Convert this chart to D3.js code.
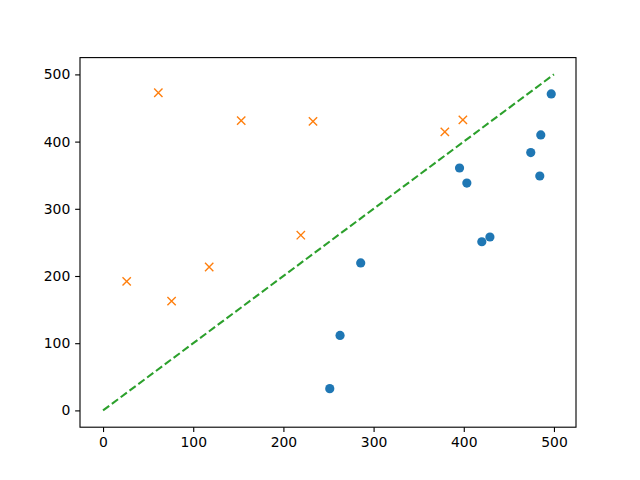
<!DOCTYPE html>
<html><head><meta charset="utf-8">
<script src="https://cdn.jsdelivr.net/npm/d3@7"></script>
<style>body{margin:0;background:#fff}</style>
</head><body>
<svg id="c" width="640" height="480"></svg>
<script>
const blueX = [251.4, 262.8, 285.7, 395.3, 403.4, 420, 429, 474.3, 485.4, 484.3, 497];
const blueY = [32.4, 111.5, 219.4, 360.7, 338.3, 251, 258, 383.6, 410, 348.8, 471];
const orangeX = [26.2, 61.3, 76, 117.7, 153.2, 219.3, 232.8, 379, 399];
const orangeY = [192, 472.7, 162.7, 213.4, 431.3, 260.7, 430, 414.4, 432.4];
const lineX = [0, 500];
const lineY = [0, 500];
const xTicks = [0, 100, 200, 300, 400, 500];
const yTicks = [0, 100, 200, 300, 400, 500];

const svg = d3.select("#c");
const L = 80, R = 576, T = 57.6, B = 427.2;
const x = d3.scaleLinear().domain([-25, 525]).range([L, R]);
const y = d3.scaleLinear().domain([-25, 525]).range([B, T]);

const g = svg.append("g");
g.selectAll("circle").data(blueX.map((v,i)=>[v, blueY[i]])).enter().append("circle")
  .attr("cx", d=>x(d[0])+0.5).attr("cy", d=>y(d[1])).attr("r", 4.6).attr("fill", "#1f77b4");
const s = 4.17;
g.selectAll("path.xm").data(orangeX.map((v,i)=>[v, orangeY[i]])).enter().append("path")
  .attr("class","xm")
  .attr("d", d=>{const cx=x(d[0])+0.5, cy=y(d[1]); return `M${cx-s},${cy-s}L${cx+s},${cy+s}M${cx-s},${cy+s}L${cx+s},${cy-s}`;})
  .attr("stroke", "#ff7f0e").attr("stroke-width", 1.39).attr("fill","none");
g.append("path").datum(lineX.map((v,i)=>[v, lineY[i]]))
  .attr("d", d3.line().x(d=>x(d[0])+0.5).y(d=>y(d[1])))
  .attr("stroke", "#2ca02c").attr("stroke-width", 2.08).attr("stroke-dasharray", "7.7,3.3").attr("fill","none");

const xa = d3.axisBottom(x).tickValues(xTicks).tickSize(4.86).tickPadding(4.86).tickFormat(d3.format("d"));
const ya = d3.axisLeft(y).tickValues(yTicks).tickSize(4.86).tickPadding(4.86).tickFormat(d3.format("d"));
const gx = svg.append("g").attr("transform", `translate(0.5,${B})`).call(xa);
const gy = svg.append("g").attr("transform", `translate(${L},0)`).call(ya);
[gx, gy].forEach(a=>{
  a.select(".domain").remove();
  a.selectAll(".tick line").attr("stroke","#000").attr("stroke-width",1.11);
  a.selectAll(".tick text").attr("font-family","DejaVu Sans").attr("font-size","13.9px").attr("fill","#000");
});
svg.append("rect").attr("x", L).attr("y", T).attr("width", R-L).attr("height", B-T)
  .attr("fill","none").attr("stroke","#000").attr("stroke-width",1.11);
</script>
</body></html>
